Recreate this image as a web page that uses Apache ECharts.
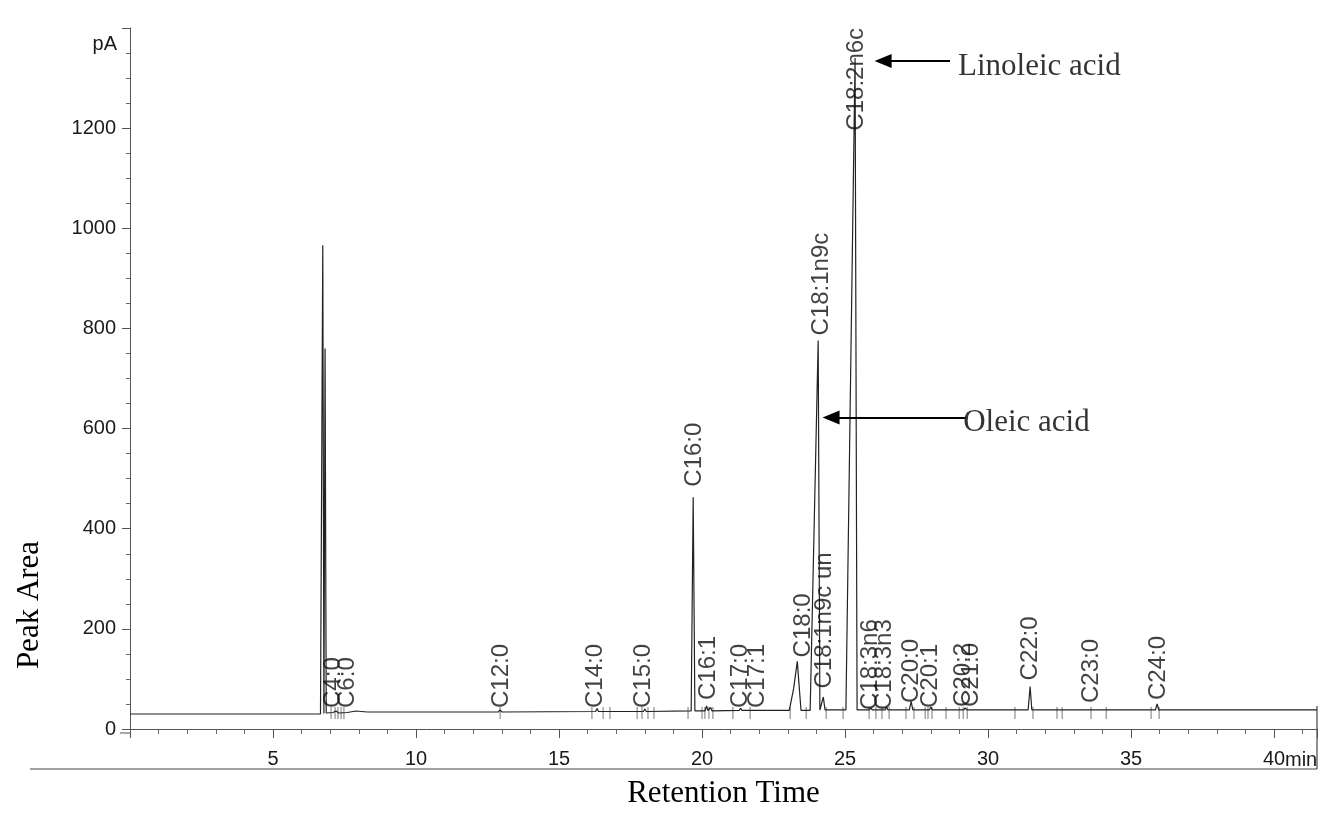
<!DOCTYPE html>
<html><head><meta charset="utf-8">
<script src="https://cdn.jsdelivr.net/npm/echarts@6/dist/echarts.min.js"></script>
<style>html,body{margin:0;padding:0;background:#fff}#c{width:1319px;height:814px}</style>
</head><body><div id="c"></div>
<script>
// chromatogram trace: [retention time (min), signal (pA)]
const trace = [
  [0,30],[6.66,30],[6.74,966],[6.78,31],[6.80,31],[6.82,760],[6.86,32],
  [7.1,33],[7.2,36],[7.3,32],[7.6,33],[7.9,36],[8.3,34],
  [12.88,34],[12.94,38],[13.0,34],
  [16.28,35],[16.33,41],[16.38,35],
  [17.95,35],[18.0,40],[18.05,35],
  [19.62,36],[19.69,463],[19.75,36],
  [20.1,36],[20.16,46],[20.2,37],[20.3,43],[20.35,36],
  [21.3,37],[21.35,41],[21.4,37],
  [23.05,37],[23.2,80],[23.33,135],[23.46,37],
  [23.78,37],[24.06,776],[24.12,38],[24.18,38],[24.24,64],[24.3,38],
  [25.03,38],[25.35,1340],[25.42,38],
  [25.85,38],[25.9,42],[25.95,38],
  [26.4,38],[26.45,44],[26.5,38],
  [27.25,38],[27.31,55],[27.37,38],
  [27.95,38],[28.0,44],[28.05,38],
  [29.15,38],[29.2,42],[29.25,38],
  [31.4,38],[31.47,85],[31.53,38],
  [33.6,38],[33.65,41],[33.7,38],
  [35.85,38],[35.91,50],[35.97,38],
  [41.5,38]
];
// peak identification labels
const peakLabels = ['C4:0','C6:0','C12:0','C14:0','C15:0','C16:0','C16:1','C17:0','C17:1','C18:0',
  'C18:1n9c un','C18:1n9c','C18:2n6c','C18:3n6','C18:3n3','C20:0','C20:1','C20:2','C21:0','C22:0','C23:0','C24:0'];
const labelTimes = [7.1,7.59,13.0,16.26,17.94,19.72,20.21,21.33,21.92,23.53,
  24.27,24.16,25.38,25.87,26.36,27.31,27.97,29.13,29.41,31.47,33.6,35.94];
const labelBases = [42,42,42,42,42,484,58,42,42,143,
  81,786,1195,38,38,52,42,44,44,97,52,58];
// integration event marks on the baseline
const markTimes = [7.03,7.17,7.27,7.38,7.48,12.94,16.15,16.54,16.78,17.73,17.9,18.11,18.32,19.51,
  20.0,20.1,20.24,20.38,21.08,21.68,23.08,23.64,24.34,24.93,25.84,26.08,26.29,26.54,27.13,27.41,
  27.8,27.9,28.04,28.53,28.99,29.13,29.27,30.94,31.57,32.41,32.59,33.6,34.13,35.7,35.98];
// annotations
const annNames = ['Linoleic acid','Oleic acid'];
const annHeads = [[26.33,1334],[24.51,622]];
const annTails = [[28.67,1334],[29.2,622]];
const annTextAt = [[28.95,1322],[29.13,611]];

const chart = echarts.init(document.getElementById('c'));
const axisFont = "'Liberation Sans',Arial,sans-serif";
const labFont = "'Liberation Sans',Arial,sans-serif";
const serif = "'Liberation Serif','Times New Roman',serif";
chart.setOption({
  animation:false,
  backgroundColor:'#fff',
  grid:{left:130,right:2,top:28,bottom:81},
  xAxis:{type:'value',min:0,max:41.5,interval:5,
    axisLine:{lineStyle:{color:'#555',width:1}},
    axisTick:{show:true,length:9,lineStyle:{color:'#555'}},
    minorTick:{show:true,splitNumber:5,length:5,lineStyle:{color:'#666'}},
    splitLine:{show:false},
    axisLabel:{fontFamily:axisFont,fontSize:20,color:'#1a1a1a',margin:20,showMaxLabel:false,
      formatter:v=>(v>0&&v%5===0)?String(v):''},
    name:'Retention Time',nameLocation:'middle',nameGap:49,
    nameTextStyle:{fontFamily:serif,fontSize:31,color:'#000'}},
  yAxis:{type:'value',min:0,max:1400,interval:200,
    axisLine:{show:true,lineStyle:{color:'#555',width:1}},
    axisTick:{show:true,length:8,lineStyle:{color:'#555'}},
    minorTick:{show:true,splitNumber:4,length:4,lineStyle:{color:'#666'}},
    splitLine:{show:false},
    axisLabel:{fontFamily:axisFont,fontSize:20,color:'#1a1a1a',margin:14,
      formatter:v=>v<1400?String(v):''}},
  series:[
    {type:'line',data:trace,symbol:'none',silent:true,z:3,
      lineStyle:{color:'#222',width:1.2},
      markLine:{silent:true,symbol:['triangle','none'],symbolSize:[14,17],
        lineStyle:{color:'#000',width:2,type:'solid'},label:{show:false},
        data:annHeads.map((p,i)=>[{coord:p},{coord:annTails[i]}])}},
    {type:'scatter',silent:true,symbolSize:0,z:4,
      data:labelTimes.map((t,i)=>({value:[t,labelBases[i]],name:peakLabels[i]})),
      label:{show:true,position:'inside',rotate:90,align:'left',verticalAlign:'middle',
        formatter:p=>p.name,fontFamily:labFont,fontSize:24,color:'#111'}},
    {type:'scatter',silent:true,symbolSize:0,z:4,
      data:annTextAt.map((p,i)=>({value:p,name:annNames[i]})),
      label:{show:true,position:'inside',align:'left',verticalAlign:'middle',
        formatter:p=>p.name,fontFamily:serif,fontSize:31,color:'#000'}},
    {type:'custom',silent:true,z:2,data:markTimes.map(t=>[t]),
      renderItem:(params,api)=>{
        const a=api.coord([api.value(0),20]);const b=api.coord([api.value(0),44]);
        return {type:'line',shape:{x1:a[0],y1:a[1],x2:b[0],y2:b[1]},style:{stroke:'#777',lineWidth:1}};
      }}
  ],
  graphic:[
    {type:'text',x:117,y:44,style:{text:'pA',fontFamily:axisFont,fontSize:20,fill:'#1a1a1a',align:'right',verticalAlign:'middle'}},
    {type:'text',x:1285,y:760,style:{text:'min',fontFamily:axisFont,fontSize:20,fill:'#1a1a1a',align:'left',verticalAlign:'middle'}},
    {type:'text',x:30,y:605,rotation:Math.PI/2,style:{text:'Peak Area',fontFamily:serif,fontSize:31,fill:'#000',align:'center',verticalAlign:'middle'}},
    {type:'line',shape:{x1:120,y1:733,x2:130,y2:733},style:{stroke:'#555',lineWidth:1}},
    {type:'line',shape:{x1:30,y1:769,x2:1317,y2:769},style:{stroke:'#444',lineWidth:1.2}},
    {type:'line',shape:{x1:1317,y1:706,x2:1317,y2:769},style:{stroke:'#444',lineWidth:1.2}}
  ]
});
</script></body></html>
